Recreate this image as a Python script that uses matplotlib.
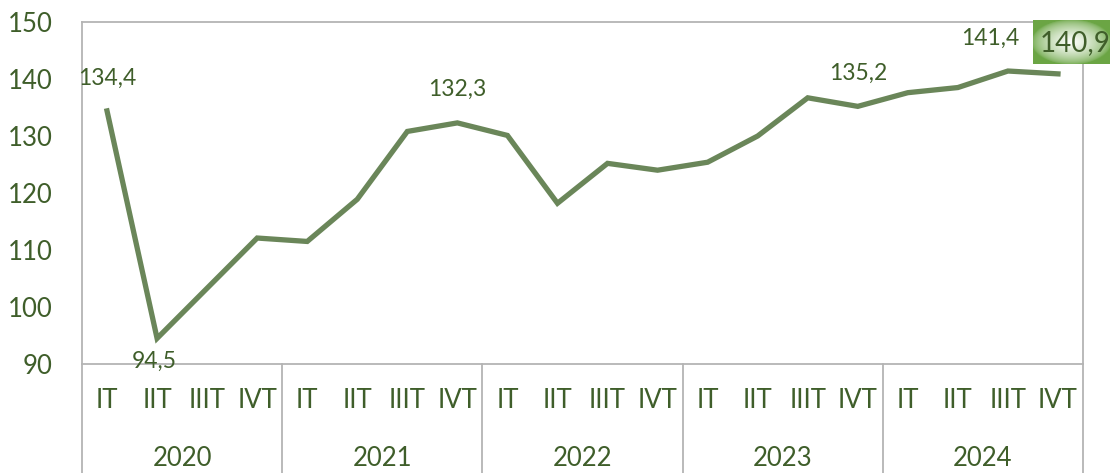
""" Quarterly index line chart, 2020-2024 """

import numpy as np
import matplotlib.pyplot as plt
import matplotlib.transforms as mtransforms

# data
years = ['2020', '2021', '2022', '2023', '2024']
quarters = ['IT', 'IIT', 'IIIT', 'IVT']
values = [134.4, 94.5, 103.3, 112.1,
          111.5, 118.9, 130.8, 132.3,
          130.1, 118.2, 125.2, 124.0,
          125.4, 130.0, 136.7, 135.2,
          137.6, 138.5, 141.4, 140.9]
y_ticks = [90, 100, 110, 120, 130, 140, 150]
# which points get a value label, and pixel offset of label
labelled = {0: (0, 33), 1: (-3, -23), 7: (0, 34), 15: (0, 33), 18: (-18, 33)}

line_col = '#6a8659'
text_col = '#3f5e2a'
frame_col = '#b4b4b4'

plt.rcParams['font.family'] = ['Lato', 'DejaVu Sans']

fig = plt.figure(figsize=(11.1, 4.73), dpi=100)
ax = fig.add_axes([82 / 1110, 1 - 364 / 473, 1001 / 1110, 342 / 473])

x = np.arange(len(values))
ax.plot(x, values, color=line_col, lw=3.8, solid_joinstyle='miter', zorder=3)

ax.set_xlim(-0.5, len(values) - 0.5)
ax.set_ylim(90, 150)
ax.set_yticks(y_ticks)
ax.set_yticklabels([str(t) for t in y_ticks], fontsize=18.5, color=text_col)
ax.tick_params(axis='y', length=0, pad=21)
ax.set_xticks([])
for s in ax.spines.values():
    s.set_color(frame_col)
    s.set_linewidth(1.3)

# value labels
def fmt(v):
    return ('%.1f' % v).replace('.', ',')

for i, (dx, dy) in labelled.items():
    ax.annotate(fmt(values[i]), (x[i], values[i]), xytext=(dx, dy),
                textcoords='offset pixels', ha='center', va='center',
                fontsize=16.5, color=text_col, zorder=4)

# highlighted last value with gradient box
last = len(values) - 1
gx = fig.add_axes([1033 / 1110, 1 - 64 / 473, 77 / 1110, 44 / 473])
gg, hh = np.meshgrid(np.linspace(-1, 1, 80), np.linspace(-1, 1, 46))
rr = np.clip(np.sqrt(gg ** 2 + hh ** 2) / 1.05, 0, 1)
w = np.clip(1 - rr, 0, 1) ** 0.6
c_out = np.array([0.42, 0.65, 0.27])
c_in = np.array([1.0, 1.0, 1.0])
img = c_in[None, None, :] * w[..., None] + c_out[None, None, :] * (1 - w[..., None])
gx.imshow(img, aspect='auto', extent=(0, 1, 0, 1))
gx.axis('off')
fig.text(1075 / 1110, 1 - 43 / 473, fmt(values[last]), ha='center', va='center',
         fontsize=20, color=text_col, zorder=10)

# two-level category axis
trans = mtransforms.blended_transform_factory(ax.transData, ax.transAxes)
for i in range(len(values)):
    ax.text(i, -36 / 342, quarters[i % 4], transform=trans, ha='center',
            va='center', fontsize=18.5, color=text_col)
for k, yr in enumerate(years):
    ax.text(k * 4 + 1.5, -94 / 342, yr, transform=trans, ha='center',
            va='center', fontsize=18.5, color=text_col)
for k in range(len(years) + 1):
    ax.plot([k * 4 - 0.5, k * 4 - 0.5], [0, -109 / 342], transform=trans,
            color=frame_col, lw=1.3, clip_on=False)

fig.savefig('out.png', dpi=100)
